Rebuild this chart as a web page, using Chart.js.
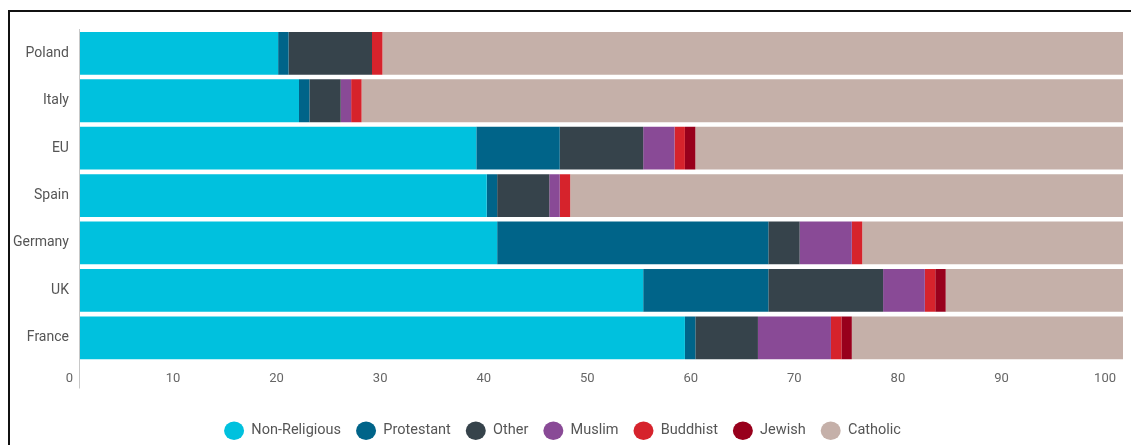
<!DOCTYPE html>
<html>
<head>
<meta charset="utf-8">
<script src="https://cdn.jsdelivr.net/npm/chart.js@4/dist/chart.umd.min.js"></script>
<style>
  html, body { margin: 0; padding: 0; background: #fff; overflow: hidden; }
  #frame { position: absolute; left: 8px; top: 10px; width: 2000px; height: 2000px;
           border-top: 2px solid #111; border-left: 2px solid #111; }
  #wrap { position: absolute; left: 0; top: 0; width: 1131px; height: 445px; }
</style>
</head>
<body>
<div id="frame"></div>
<div id="wrap"><canvas id="myChart"></canvas></div>
<script>
  "use strict";
  // Countries, top to bottom
  const countries = ["Poland", "Italy", "EU", "Spain", "Germany", "UK", "France"];

  // Share of population (%) per group
  const nonReligious = [19, 21, 38, 39, 40, 54, 58];
  const protestant = [1, 1, 8, 1, 26, 12, 1];
  const other = [8, 3, 8, 5, 3, 11, 6];
  const muslim = [0, 1, 3, 1, 5, 4, 7];
  const buddhist = [1, 1, 1, 1, 1, 1, 1];
  const jewish = [0, 0, 1, 0, 0, 1, 1];
  const catholic = [71, 73, 41, 53, 25, 17, 26];

  const xTicks = [0, 10, 20, 30, 40, 50, 60, 70, 80, 90, 100];

  const ctx = document.getElementById("myChart");

  // one entry per series: label, values, colour
  const series = [
    ["Non-Religious", nonReligious, "#00c1de"],
    ["Protestant", protestant, "#006489"],
    ["Other", other, "#36434b"],
    ["Muslim", muslim, "#894a96"],
    ["Buddhist", buddhist, "#d6232c"],
    ["Jewish", jewish, "#98001c"],
    ["Catholic", catholic, "#c5b0a9"],
  ];

  const myChart = new Chart(ctx, {
    type: "bar",
    data: {
      labels: countries,
      datasets: series.map(function (s) {
        return {
          label: s[0],
          data: s[1],
          backgroundColor: s[2],
          borderWidth: 0,
          barPercentage: 0.903,
          categoryPercentage: 1,
        };
      }),
    },
    options: {
      indexAxis: "y",
      responsive: true,
      maintainAspectRatio: false,
      animation: false,
      layout: { padding: { left: 2, right: 8, top: 29.6, bottom: -3 } },
      plugins: {
        tooltip: { enabled: false },
        legend: {
          position: "bottom",
          labels: {
            usePointStyle: true,
            pointStyle: "circle",
            pointStyleWidth: 20,
            boxHeight: 13,
            padding: 15,
            color: "#555",
            font: { family: "Roboto", size: 14.5 },
          },
        },
      },
      scales: {
        x: {
          stacked: true,
          min: 0,
          max: 100,
          display: false,
        },
        // label axis: tick labels sit a little left of the bar scale
        x2: {
          type: "linear",
          axis: "x",
          position: "bottom",
          min: 0,
          max: 100.72,
          afterBuildTicks: function (scale) {
            scale.ticks = xTicks.map(function (v) { return { value: v }; });
          },
          afterFit: function (scale) { scale.height = 47; },
          border: { display: false },
          grid: {
            drawOnChartArea: false,
            drawTicks: true,
            tickLength: 27,
            color: function (c) { return c.tick && c.tick.value === 0 ? "#c8c8c8" : "rgba(0,0,0,0)"; },
          },
          ticks: {
            padding: -18,
            labelOffset: -10.5,
            maxRotation: 0,
            autoSkip: false,
            color: "#666",
            font: { family: "Roboto", size: 13 },
          },
        },
        y: {
          stacked: true,
          grid: { display: false, drawTicks: false },
          border: { display: true, color: "#c8c8c8", width: 1 },
          ticks: {
            padding: 11,
            color: "#555",
            font: { family: "Roboto", size: 14 },
          },
        },
      },
    },
  });
</script>
</body>
</html>
